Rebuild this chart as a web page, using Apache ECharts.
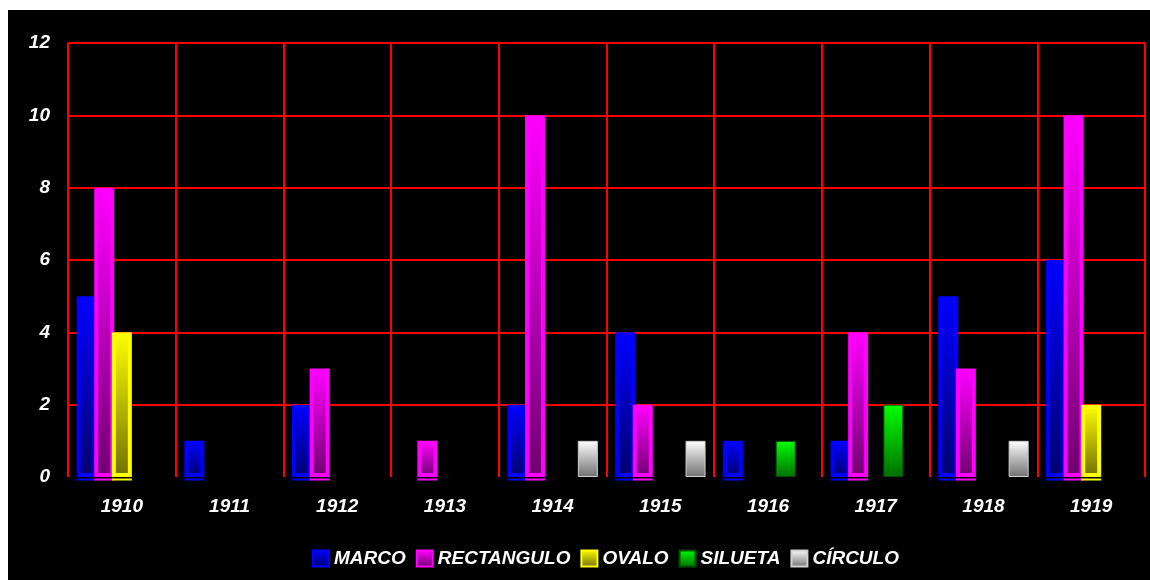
<!DOCTYPE html>
<html>
<head>
<meta charset="utf-8">
<script src="https://cdn.jsdelivr.net/npm/echarts@6/dist/echarts.min.js"></script>
<style>
html,body{margin:0;padding:0;background:#ffffff;width:1150px;height:580px;overflow:hidden;}
#chart{position:absolute;left:8px;top:10px;width:1142px;height:570px;background:#000000;}
</style>
</head>
<body>
<div id="chart"></div>
<script>
var categories = ['1910','1911','1912','1913','1914','1915','1916','1917','1918','1919'];
var marco      = [5, 1, 2, 0, 2, 4, 1, 1, 5, 6];
var rectangulo = [8, 0, 3, 1, 10, 2, 0, 4, 3, 10];
var ovalo      = [4, 0, 0, 0, 0, 0, 0, 0, 0, 2];
var silueta    = [0, 0, 0, 0, 0, 0, 1, 2, 0, 0];
var circulo    = [0, 0, 0, 0, 1, 1, 0, 0, 1, 0];
var seriesNames = ['MARCO','RECTANGULO','OVALO','SILUETA','CÍRCULO'];
var yTicks = [0, 2, 4, 6, 8, 10, 12];

var FONT = '"Liberation Sans", Arial, sans-serif';
function grad(top, bottom) {
  return new echarts.graphic.LinearGradient(0, 0, 0, 1, [
    {offset: 0, color: top}, {offset: 1, color: bottom}
  ]);
}
var styles = [
  {color: grad('#0000ff', '#000070'), borderColor: '#0000ff', borderWidth: 4},
  {color: grad('#ff00ff', '#700070'), borderColor: '#ff00ff', borderWidth: 4},
  {color: grad('#ffff00', '#707000'), borderColor: '#ffff00', borderWidth: 4},
  {color: grad('#00ff00', '#007000'), borderColor: '#005000', borderWidth: 1},
  {color: grad('#ffffff', '#707070'), borderColor: '#d0d0d0', borderWidth: 1}
];
var baseColors = ['#0000ff', '#ff00ff', '#ffff00', null, null];
var dataSets = [marco, rectangulo, ovalo, silueta, circulo];

var series = dataSets.map(function (d, i) {
  return {
    name: seriesNames[i],
    type: 'bar',
    data: d.map(function (v) { return v === 0 ? null : v; }),
    barWidth: 20,
    barGap: '-12%',
    itemStyle: styles[i]
  };
});
// thin coloured base strip under the framed bars (second hidden axis pair, 1 unit = 1px)
dataSets.forEach(function (d, i) {
  series.push({
    type: 'bar', xAxisIndex: 1, yAxisIndex: 1, stack: 'b' + i, silent: true, clip: false,
    barWidth: 20, barGap: '-12%',
    itemStyle: {color: 'rgba(0,0,0,0)'},
    data: d.map(function (v) { return baseColors[i] && v !== 0 ? -1.5 : null; })
  });
  series.push({
    type: 'bar', xAxisIndex: 1, yAxisIndex: 1, stack: 'b' + i, silent: true, clip: false,
    barWidth: 20, barGap: '-12%',
    itemStyle: {color: baseColors[i] || 'rgba(0,0,0,0)'},
    data: d.map(function (v) { return baseColors[i] && v !== 0 ? -2 : null; })
  });
});

var chart = echarts.init(document.getElementById('chart'));
chart.setOption({
  backgroundColor: '#000000',
  animation: false,
  textStyle: {fontFamily: FONT},
  grid: {left: 60, top: 33, right: 5, bottom: 103, containLabel: false},
  legend: {
    left: 299, top: 534,
    itemWidth: 16, itemHeight: 16, itemGap: 10,
    icon: 'rect',
    textStyle: {color: '#ffffff', fontSize: 19, fontWeight: 'bold', fontStyle: 'italic', fontFamily: FONT},
    data: seriesNames
  },
  xAxis: [{
    type: 'category',
    data: categories,
    boundaryGap: true,
    axisLine: {show: false},
    axisTick: {show: false},
    axisLabel: {color: '#ffffff', fontSize: 19, fontWeight: 'bold', fontStyle: 'italic', fontFamily: FONT, margin: 20},
    splitLine: {show: true, lineStyle: {color: '#ff0000', width: 2}}
  }, {
    type: 'category', data: categories, boundaryGap: true, show: false
  }],
  yAxis: [{
    type: 'value',
    min: yTicks[0], max: yTicks[yTicks.length - 1], interval: 2,
    axisLine: {show: false},
    axisTick: {show: false},
    axisLabel: {color: '#ffffff', fontSize: 19, fontWeight: 'bold', fontStyle: 'italic', fontFamily: FONT, margin: 18},
    splitLine: {show: true, showMinLine: false, lineStyle: {color: '#ff0000', width: 2}}
  }, {
    type: 'value', min: 0, max: 434, show: false, splitLine: {show: false}
  }],
  series: series
});
</script>
</body>
</html>
